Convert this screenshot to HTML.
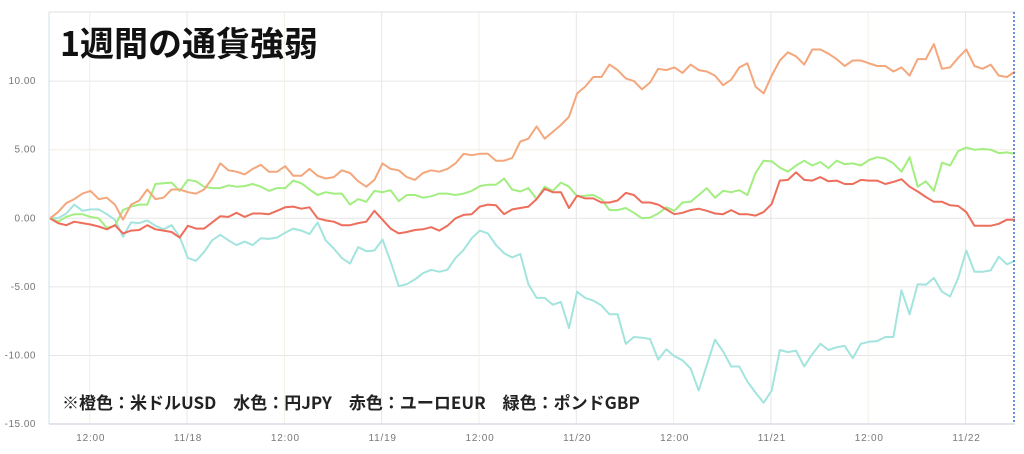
<!DOCTYPE html>
<html><head><meta charset="utf-8"><style>
body{margin:0;background:#fff;}
svg{display:block;font-family:"Liberation Sans","Noto Sans CJK JP",sans-serif;}
</style></head><body>
<svg id="chart" width="1024" height="454" viewBox="0 0 1024 454" xmlns="http://www.w3.org/2000/svg">
<g id="grid"></g>
<g id="series"></g>
<g id="axes"></g>
<text x="60" y="56" font-size="34" font-weight="bold" fill="#111" font-family="'Noto Sans CJK JP',sans-serif">1週間の通貨強弱</text>
<text x="62" y="409" font-size="17" font-weight="bold" fill="#222" font-family="'Noto Sans CJK JP',sans-serif" xml:space="preserve">※橙色：米ドルUSD　水色：円JPY　赤色：ユーロEUR　緑色：ポンドGBP</text>
</svg>
<script>
const yTicks=[10,5,0,-5,-10,-15];
const yTickLabels=["10.00","5.00","0.00","-5.00","-10.00","-15.00"];
const xTickIdx=[4.9,16.9,28.9,40.9,52.9,64.9,76.9,88.9,100.9,112.9];
const xTickLabels=["12:00","11/18","12:00","11/19","12:00","11/20","12:00","11/21","12:00","11/22"];
const usd=[0,0.45,1.1,1.4,1.8,2.0,1.4,1.5,1.0,-0.1,1.0,1.3,2.1,1.4,1.5,2.1,2.1,1.9,1.8,2.1,2.9,4.0,3.5,3.4,3.2,3.6,3.9,3.4,3.4,3.8,3.1,3.1,3.6,3.1,2.9,3.0,3.5,3.3,2.7,2.3,2.8,4.0,3.6,3.5,3.0,2.8,3.3,3.5,3.4,3.6,4.0,4.7,4.6,4.7,4.7,4.2,4.2,4.4,
5.6,5.8,6.7,5.8,6.3,6.8,7.4,9.1,9.6,10.3,10.3,11.2,10.8,10.2,10.0,9.4,9.9,10.9,10.8,11.0,10.6,11.2,10.8,10.7,10.4,9.7,10.1,11.0,11.3,9.6,9.1,10.4,11.5,12.1,11.8,11.2,12.3,12.3,12.0,11.6,11.1,11.5,11.5,11.3,11.1,11.1,10.7,11.0,10.4,11.6,11.6,12.7,10.9,11.0,11.7,12.3,11.1,10.9,11.2,10.4,10.3,10.7];
const gbp=[0,-0.25,0.1,0.3,0.3,0.1,0,-0.7,-0.55,0.6,0.85,1.0,1.0,2.5,2.55,2.6,2.0,2.8,2.7,2.3,2.2,2.2,2.4,2.3,2.35,2.5,2.3,2.0,2.2,2.2,2.75,2.55,2.1,1.7,1.9,1.8,1.8,1.0,1.4,1.2,2.0,1.9,2.05,1.25,1.7,1.7,1.5,1.6,1.8,1.8,1.7,1.8,2.0,2.35,2.45,2.45,2.9,2.1,
1.95,2.2,1.4,2.3,2.0,2.6,2.3,1.6,1.65,1.7,1.4,0.6,0.6,0.75,0.4,0,0.05,0.35,0.8,0.55,1.15,1.2,1.7,2.2,1.5,2.0,1.9,2.05,1.7,3.3,4.2,4.15,3.7,3.4,3.85,4.2,3.85,4.1,3.65,4.2,3.95,4.0,3.85,4.25,4.45,4.35,4.0,3.4,4.45,2.3,2.7,2.0,4.05,3.85,4.9,5.15,5.0,5.05,5.0,4.75,4.8,4.7];
const eur=[0,-0.35,-0.5,-0.25,-0.35,-0.45,-0.6,-0.8,-0.5,-1.1,-0.9,-0.85,-0.5,-0.8,-0.9,-1.0,-1.4,-0.55,-0.75,-0.75,-0.3,0.15,0.1,0.4,0.1,0.35,0.35,0.3,0.55,0.8,0.85,0.7,0.8,0,-0.15,-0.25,-0.5,-0.5,-0.35,-0.25,0.55,-0.1,-0.75,-1.1,-1.0,-0.85,-0.8,-0.65,-0.9,-0.55,0,0.25,0.3,0.85,1.0,0.95,0.3,0.65,
0.75,0.85,1.4,2.15,1.9,1.9,0.75,1.65,1.45,1.45,1.15,1.15,1.3,1.85,1.7,1.15,1.15,1.0,0.65,0.3,0.4,0.6,0.7,0.55,0.35,0.3,0.6,0.3,0.3,0.2,0.45,1.05,2.75,2.8,3.35,2.8,2.75,3.0,2.7,2.75,2.5,2.5,2.8,2.75,2.75,2.5,2.65,2.85,2.3,1.95,1.55,1.2,1.2,0.95,0.9,0.45,-0.55,-0.55,-0.55,-0.4,-0.1,-0.1];
const jpy=[0,0,0.35,1.0,0.55,0.65,0.65,0.3,-0.1,-1.35,-0.3,-0.35,-0.15,-0.55,-0.8,-0.5,-1.35,-2.9,-3.1,-2.45,-1.6,-1.2,-1.6,-1.95,-1.7,-1.95,-1.45,-1.5,-1.4,-1.05,-0.75,-0.9,-1.15,-0.3,-1.6,-2.2,-2.9,-3.3,-2.1,-2.4,-2.35,-1.55,-3.15,-4.95,-4.8,-4.45,-4.0,-3.75,-3.9,-3.75,-2.9,-2.3,-1.45,-0.9,-1.1,-1.95,-2.55,-2.85,
-2.6,-4.8,-5.8,-5.8,-6.3,-6.1,-8.0,-5.35,-5.8,-6.0,-6.35,-7.0,-7.0,-9.15,-8.65,-8.7,-8.8,-10.3,-9.55,-10.05,-10.35,-10.95,-12.55,-10.7,-8.85,-9.7,-10.8,-10.8,-11.9,-12.7,-13.45,-12.55,-9.6,-9.75,-9.65,-10.8,-9.9,-9.15,-9.6,-9.4,-9.3,-10.2,-9.15,-9.0,-8.95,-8.65,-8.65,-5.25,-7.0,-4.8,-4.85,-4.35,-5.35,-5.7,-4.35,-2.35,-3.9,-3.9,-3.8,-2.8,-3.35,-3.1];

const NS="http://www.w3.org/2000/svg";
const L=50,R=1015,T=12,B=424;
const n=usd.length;
function xs(i){return L+i*(R-L)/(n-1);}
function ys(v){return 218.3-v*13.72;}
const grid=document.getElementById('grid'),axes=document.getElementById('axes'),ser=document.getElementById('series');
function mk(tag,attrs,parent){const e=document.createElementNS(NS,tag);for(const k in attrs)e.setAttribute(k,attrs[k]);parent.appendChild(e);return e;}

yTicks.forEach((v,k)=>{
  if(v>-15){
    const g=mk('line',{x1:L-1,x2:R,y1:ys(v),y2:ys(v),stroke:v===5?'#f3ede0':'#e6e6e6','stroke-width':1},grid);
    
    
  }
  const t=mk('text',{x:36,y:ys(v)+3,'text-anchor':'end','font-size':10,fill:'#777','letter-spacing':0.5},axes);
  t.textContent=yTickLabels[k];
  
  
});
xTickIdx.forEach((ix,k)=>{
  const x=xs(ix);
  const g=mk('line',{x1:x,x2:x,y1:T,y2:B,stroke:xTickLabels[k]==='12:00'?'#f3efe4':'#e6e6ea','stroke-width':1},grid);
  
  
  const t=mk('text',{x:x+1,y:441,'text-anchor':'middle','font-size':10,fill:'#777','letter-spacing':0.8},axes);
  t.textContent=xTickLabels[k];
  
  
});
const topBorder=mk('line',{x1:L-1,x2:R,y1:T,y2:T,stroke:'#e2e2e2'},axes);


const leftAxis=mk('line',{x1:L-1,x2:L-1,y1:T,y2:B,stroke:'#cfe0ea'},axes);


const bottomAxis=mk('line',{x1:L-1,x2:R,y1:B,y2:B,stroke:'#d8dde6','stroke-width':1.5},axes);


const cursorLine=mk('line',{x1:R-1,x2:R-1,y1:T,y2:B,stroke:'#3a6fd0','stroke-width':1.5,'stroke-dasharray':'2,2'},axes);



const seriesList=[[jpy,'#a3e4de','line-jpy'],[gbp,'#a2ee80','line-gbp'],[eur,'#ee6e5c','line-eur'],[usd,'#f4a77c','line-usd']];
seriesList.forEach(([d,c,name])=>{
  const p=d.map((v,i)=>(i?'L':'M')+xs(i).toFixed(1)+','+ys(v).toFixed(1)).join('');
  const e=mk('path',{d:p,fill:'none',stroke:c,'stroke-width':2,'stroke-linejoin':'round'},ser);
  
  
});
</script>
</body></html>
